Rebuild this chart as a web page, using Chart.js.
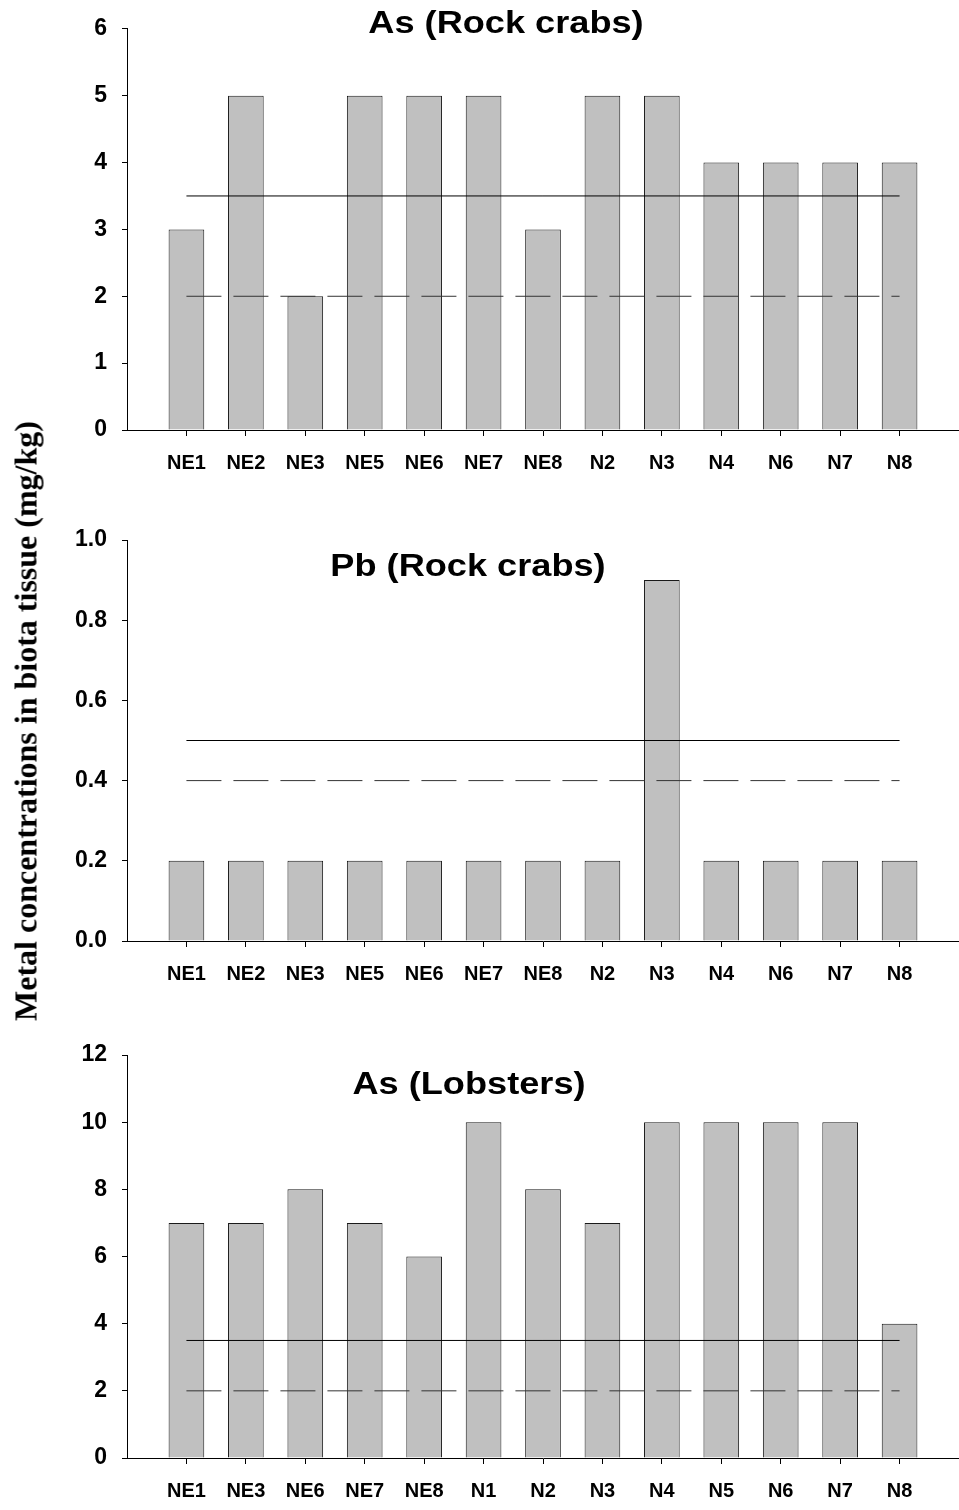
<!DOCTYPE html>
<html>
<head>
<meta charset="utf-8">
<script src="https://cdn.jsdelivr.net/npm/chart.js@4.4.1/dist/chart.umd.min.js"></script>
<style>
  html, body { margin: 0; padding: 0; background: #fff; overflow: hidden; }
  #page { position: relative; width: 959px; height: 1510px; }
  .panel { position: absolute; left: 0; width: 959px; }
  .panel canvas { display: block; }
  #ytitle {
    position: absolute; left: 26px; top: 721px;
    transform: translate(-50%, -50%) rotate(-90deg);
    font: bold 32px "Liberation Serif", "Times New Roman", serif;
    white-space: nowrap; color: #000;
  }
</style>
</head>
<body>
<div id="page">
  <div class="panel" style="top:0;height:500px"><canvas id="c1"></canvas></div>
  <div class="panel" style="top:500px;height:510px"><canvas id="c2"></canvas></div>
  <div class="panel" style="top:1010px;height:500px"><canvas id="c3"></canvas></div>
  <div id="ytitle">Metal concentrations in biota tissue (mg/kg)</div>
</div>
<script>
// ── DATA ─────────────────────────────────────────────────────
const crabSites    = ['NE1','NE2','NE3','NE5','NE6','NE7','NE8','N2','N3','N4','N6','N7','N8'];
const lobsterSites = ['NE1','NE3','NE6','NE7','NE8','N1','N2','N3','N4','N5','N6','N7','N8'];

const asCrabs    = [3, 5, 2, 5, 5, 5, 3, 5, 5, 4, 4, 4, 4];
const pbCrabs    = [0.2, 0.2, 0.2, 0.2, 0.2, 0.2, 0.2, 0.2, 0.9, 0.2, 0.2, 0.2, 0.2];
const asLobsters = [7, 7, 8, 7, 6, 10, 8, 7, 10, 10, 10, 10, 4];

// guideline levels: [solid, dashed]
const asLimits = [3.5, 2];
const pbLimits = [0.5, 0.4];

const asCrabTicks    = [0, 1, 2, 3, 4, 5, 6];
const pbTicks        = [0, 0.2, 0.4, 0.6, 0.8, 1.0];
const asLobsterTicks = [0, 2, 4, 6, 8, 10, 12];

// ── PLUGINS ──────────────────────────────────────────────────
const panelTitle = {
  id: 'panelTitle',
  afterDraw(chart, args, opts) {
    const ctx = chart.ctx;
    ctx.save();
    ctx.font = 'bold 32px "Liberation Sans", Arial, sans-serif';
    ctx.fillStyle = '#000';
    ctx.textAlign = 'center';
    ctx.textBaseline = 'middle';
    ctx.translate(opts.x, opts.y);
    ctx.scale(1.13, 1);
    ctx.fillText(opts.text, 0, 0);
    ctx.restore();
  }
};

// ── CHART FACTORY ────────────────────────────────────────────
function makePanel(id, sites, values, limits, yTicks, decimals, title, pad) {
  const pts = values.map((v, i) => ({ x: i + 1, y: v }));
  const first = 1, last = sites.length;
  const tickFont = { family: '"Liberation Sans", Arial, sans-serif', weight: 'bold' };

  return new Chart(document.getElementById(id), {
    type: 'bar',
    data: {
      datasets: [
        {
          type: 'line', order: 0,
          data: [{ x: first, y: limits[0] }, { x: last, y: limits[0] }],
          borderColor: '#000', borderWidth: 1, pointRadius: 0
        },
        {
          type: 'line', order: 0,
          data: [{ x: first, y: limits[1] }, { x: last, y: limits[1] }],
          borderColor: '#333', borderWidth: 1, borderDash: [35, 12], pointRadius: 0
        },
        {
          type: 'bar', order: 1,
          data: pts,
          backgroundColor: '#c0c0c0',
          borderColor: '#1a1a1a', borderWidth: 1,
          categoryPercentage: 0.6, barPercentage: 1
        }
      ]
    },
    options: {
      responsive: true,
      maintainAspectRatio: false,
      animation: false,
      events: [],
      layout: { padding: { top: pad.top, bottom: pad.bottom, left: 0, right: 0 } },
      plugins: {
        legend: { display: false },
        tooltip: { enabled: false },
        panelTitle: title
      },
      scales: {
        x: {
          type: 'linear', min: 0, max: sites.length + 1, offset: false,
          afterBuildTicks: s => { s.ticks = sites.map((_, i) => ({ value: i + 1 })); },
          afterFit: s => { s.height = 45; },
          grid: { offset: false, drawOnChartArea: false, drawTicks: true, tickLength: 6, color: '#000' },
          border: { display: true, color: '#000', width: 1 },
          ticks: {
            autoSkip: false, maxRotation: 0, padding: 15, color: '#000',
            font: Object.assign({ size: 20 }, tickFont),
            callback: v => sites[v - 1] || ''
          }
        },
        y: {
          min: yTicks[0], max: yTicks[yTicks.length - 1],
          afterBuildTicks: s => { s.ticks = yTicks.map(v => ({ value: v })); },
          afterFit: s => { s.width = 127; },
          grid: { drawOnChartArea: false, drawTicks: true, tickLength: 5, color: '#000' },
          border: { display: true, color: '#000', width: 1 },
          ticks: {
            padding: 15, color: '#000',
            font: Object.assign({ size: 23 }, tickFont),
            callback: v => Number(v).toFixed(decimals)
          }
        }
      }
    },
    plugins: [panelTitle]
  });
}

makePanel('c1', crabSites, asCrabs, asLimits, asCrabTicks, 0,
  { text: 'As (Rock crabs)', x: 506, y: 24 }, { top: 27, bottom: 25 });
makePanel('c2', crabSites, pbCrabs, pbLimits, pbTicks, 1,
  { text: 'Pb (Rock crabs)', x: 468, y: 67 }, { top: 40, bottom: 24 });
makePanel('c3', lobsterSites, asLobsters, asLimits, asLobsterTicks, 0,
  { text: 'As (Lobsters)', x: 469, y: 75 }, { top: 45, bottom: 7 });
</script>
</body>
</html>
